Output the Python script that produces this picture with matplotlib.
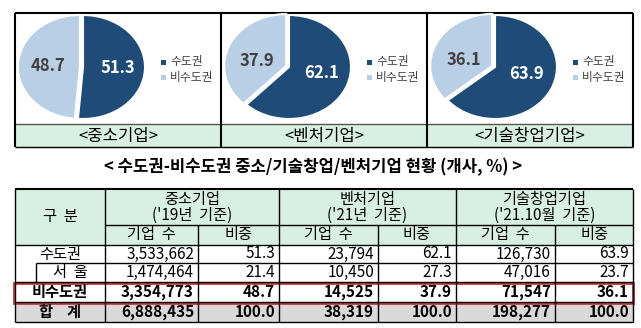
import numpy as np
import matplotlib.pyplot as plt
from matplotlib.patches import Rectangle

plt.rcParams['font.family'] = ['Noto Sans CJK KR', 'DejaVu Sans']

# 데이터
regions = ['수도권', '서  울', '비수도권', '합    계']
sme_cnt = [3533662, 1474464, 3354773, 6888435]
sme_pct = [51.3, 21.4, 48.7, 100.0]
venture_cnt = [23794, 10450, 14525, 38319]
venture_pct = [62.1, 27.3, 37.9, 100.0]
tech_cnt = [126730, 47016, 71547, 198277]
tech_pct = [63.9, 23.7, 36.1, 100.0]

pie_titles = ['<중소기업>', '<벤처기업>', '<기술창업기업>']
group_titles = ['중소기업\n(\'19년  기준)', '벤처기업\n(\'21년  기준)', '기술창업기업\n(\'21.10월  기준)']
legend_labels = ['수도권', '비수도권']

DARK = '#1f4b79'
LIGHT = '#b9cfe6'
GREEN = '#d8f0e3'
GRAY = '#d9d9d9'

W, H = 641, 328
fig = plt.figure(figsize=(W / 100, H / 100), dpi=100)
ax = fig.add_axes([0, 0, 1, 1])
ax.set_xlim(0, W)
ax.set_ylim(H, 0)
ax.axis('off')


def px_axes(x0, y0, w, h):
    return fig.add_axes([x0 / W, 1 - (y0 + h) / H, w / W, h / H])


def hline(y, x0, x1, lw=1.0, c='black'):
    ax.plot([x0, x1], [y, y], color=c, lw=lw, solid_capstyle='butt')


def vline(x, y0, y1, lw=1.0, c='black'):
    ax.plot([x, x], [y0, y1], color=c, lw=lw, solid_capstyle='butt')


# 상단 파이 차트 패널
L, R = 15, 633
panel_x = [15, 221, 427, 633]
top, strip, bottom = 13, 124, 147
ax.add_patch(Rectangle((L, strip), R - L, bottom - strip, color=GREEN, lw=0))
hline(top, L, R, 1.5)
hline(strip, L, R, 1.0, '#555555')
hline(bottom, L, R, 1.0)
for x in panel_x:
    vline(x, top, bottom, 1.5)

pie_data = [sme_pct, venture_pct, tech_pct]
rx, ry, pad = 62, 52, 1.15
for i, pct in enumerate(pie_data):
    left = panel_x[i]
    cx, cy = left + 68, 67
    pax = px_axes(cx - rx * pad, cy - ry * pad, 2 * rx * pad, 2 * ry * pad)
    vals = [pct[0], pct[2]]
    wedges, _ = pax.pie(vals, colors=[DARK, LIGHT], startangle=90, counterclock=False,
                        explode=[0, 0.05], wedgeprops=dict(edgecolor='white', linewidth=1.5))
    # 조각 안쪽 라벨 (세로 방향은 조금 납작하게)
    for w, v, c in zip(wedges, vals, ['white', '#404040']):
        mid = np.deg2rad((w.theta1 + w.theta2) / 2)
        pax.text(0.56 * np.cos(mid), 0.56 * np.sin(mid) * 0.6, f'{v:.1f}',
                 color=c, fontsize=12, fontweight='bold', ha='center', va='center')
    pax.set_aspect('auto')
    pax.set_xlim(-pad, pad)
    pax.set_ylim(-pad, pad)
    pax.axis('off')

    # 범례
    for k, (lab, col) in enumerate(zip(legend_labels, [DARK, LIGHT])):
        ly = 62 + k * 15
        ax.add_patch(Rectangle((left + 146, ly - 2.5), 5, 5, color=col, lw=0))
        ax.text(left + 155, ly, lab, fontsize=8.5, color='#404040', va='center', ha='left')

    ax.text((panel_x[i] + panel_x[i + 1]) / 2, (strip + bottom) / 2 + 0.5, pie_titles[i],
            fontsize=12, ha='center', va='center')

# 표 제목
ax.text(313, 167, '< 수도권-비수도권 중소/기술창업/벤처기업 현황 (개사, %) >',
        fontsize=12, fontweight='bold', ha='center', va='center')

# 표
cols = [15, 105, 198, 279, 378, 456, 555, 633]
t_top, t_sub, t_head = 189, 225, 245
rows = [245, 263, 282, 302, 322]
FS = 11

ax.add_patch(Rectangle((L, t_top), R - L, t_head - t_top, color=GREEN, lw=0))
ax.add_patch(Rectangle((L, rows[3]), R - L, rows[4] - rows[3], color=GRAY, lw=0))

hline(t_top, L, R, 1.5)
hline(t_sub, cols[1], R)
hline(t_head, L, R)
hline(rows[1], 36, R)
vline(36, rows[1], rows[2])
for y in rows[2:]:
    hline(y, L, R)
for x in [cols[0], cols[1], cols[3], cols[5], cols[7]]:
    vline(x, t_top, rows[4])
for x in [cols[2], cols[4], cols[6]]:
    vline(x, t_sub, rows[4])

ax.text((cols[0] + cols[1]) / 2, (t_top + t_head) / 2, '구  분', fontsize=FS,
        ha='center', va='center')
for g in range(3):
    x0, x1, x2 = cols[1 + 2 * g], cols[2 + 2 * g], cols[3 + 2 * g]
    ax.text((x0 + x2) / 2, (t_top + t_sub) / 2, group_titles[g], fontsize=FS,
            ha='center', va='center', linespacing=0.9)
    ax.text((x0 + x1) / 2, (t_sub + t_head) / 2, '기업  수', fontsize=FS,
            ha='center', va='center')
    ax.text((x1 + x2) / 2, (t_sub + t_head) / 2, '비중', fontsize=FS,
            ha='center', va='center')

series = [(sme_cnt, sme_pct), (venture_cnt, venture_pct), (tech_cnt, tech_pct)]
for r, name in enumerate(regions):
    yc = (rows[r] + rows[r + 1]) / 2
    weight = 'bold' if r >= 2 else 'normal'
    lx = (36 + cols[1]) / 2 if r == 1 else (cols[0] + cols[1]) / 2
    ax.text(lx, yc, name, fontsize=FS, ha='center', va='center', fontweight=weight)
    for g, (cnt, pct) in enumerate(series):
        ax.text(cols[2 + 2 * g] - 4, yc, f'{cnt[r]:,}', fontsize=FS, ha='right',
                va='center', fontweight=weight)
        ax.text(cols[3 + 2 * g] - 4, yc, f'{pct[r]:.1f}', fontsize=FS, ha='right',
                va='center', fontweight=weight)

# 비수도권 강조 박스
ax.add_patch(Rectangle((14, rows[2] + 1), R - 14, rows[3] - rows[2], fill=False,
                       edgecolor='#c8373a', lw=2))

fig.savefig('out.png', dpi=100)
